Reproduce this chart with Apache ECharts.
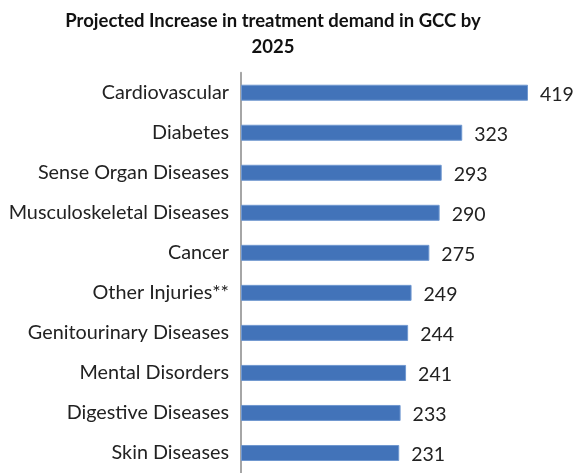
<!DOCTYPE html>
<html>
<head>
<meta charset="utf-8">
<script src="https://cdn.jsdelivr.net/npm/echarts@6/dist/echarts.min.js"></script>
<style>
  html, body { margin: 0; padding: 0; background: #fff; }
  #main { width: 577px; height: 473px; }
</style>
</head>
<body>
<div id="main"></div>
<script>
// categories top to bottom as in the picture
var categories = ['Cardiovascular', 'Diabetes', 'Sense Organ Diseases', 'Musculoskeletal Diseases',
    'Cancer', 'Other Injuries**', 'Genitourinary Diseases', 'Mental Disorders',
    'Digestive Diseases', 'Skin Diseases'];
var values = [419, 323, 293, 290, 275, 249, 244, 241, 233, 231];

var chart = echarts.init(document.getElementById('main'));

var option = {
    animation: false,
    title: {
        text: 'Projected Increase in treatment demand in GCC by\n2025',
        left: 268,
        textAlign: 'center',
        top: 3,
        textStyle: {
            fontFamily: 'Lato',
            fontSize: 18.5,
            fontWeight: 'bold',
            color: '#111',
            lineHeight: 26
        }
    },
    grid: {
        left: 241,
        right: 49,
        top: 72.7,
        height: 405.6,
        containLabel: false
    },
    xAxis: {
        type: 'value',
        min: 0,
        max: 419,
        show: false
    },
    yAxis: {
        type: 'category',
        inverse: true,
        data: categories,
        axisLine: { show: true, lineStyle: { color: '#a6a6a6', width: 2 } },
        axisTick: { show: false },
        axisLabel: {
            margin: 12,
            fontFamily: 'Lato',
            fontSize: 19.8,
            color: '#222'
        }
    },
    series: [{
        type: 'bar',
        data: values,
        barWidth: 16,
        itemStyle: { color: '#4273b9', borderColor: '#7098d0', borderWidth: 1 },
        label: {
            show: true,
            position: 'right',
            distance: 12,
            offset: [0, 2],
            fontFamily: 'Lato',
            fontSize: 19.5,
            color: '#222'
        }
    }]
};

chart.setOption(option);
</script>
</body>
</html>
